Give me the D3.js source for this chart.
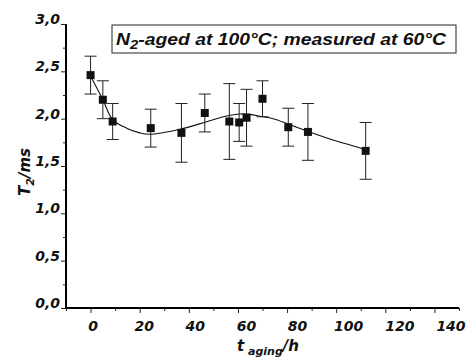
<!DOCTYPE html>
<html>
<head>
<meta charset="utf-8">
<script src="https://cdn.jsdelivr.net/npm/d3@7"></script>
<style>
    body { margin: 0; background: #fff; }
    .lbl { font-family: "DejaVu Sans", sans-serif; font-weight: bold; font-style: italic; fill: #111; }
    .leg { font-family: "Liberation Sans", Arial, sans-serif; font-weight: bold; font-style: italic; fill: #111; }
</style>
</head>
<body>
<script>
// measured points: aging time (h), T2 (ms), error (ms)
var agingTime = [0, 5, 9, 24.5, 37, 46.5, 56.5, 60.5, 63.5, 70, 80.5, 88.5, 112];
var t2Values  = [2.46, 2.20, 1.97, 1.90, 1.85, 2.06, 1.97, 1.96, 2.01, 2.21, 1.91, 1.86, 1.66];
var t2Errors  = [0.20, 0.20, 0.19, 0.20, 0.31, 0.20, 0.40, 0.20, 0.30, 0.19, 0.20, 0.30, 0.30];

// fitted curve
var fitTime = [0, 5, 9, 14.7, 20, 24, 36.4, 47.3, 55.4, 60.8, 65, 69, 74.3, 80.4, 88, 98.7, 110.9, 112];
var fitT2   = [2.45, 2.20, 1.99, 1.90, 1.85, 1.835, 1.888, 1.968, 2.028, 2.05, 2.045, 2.025, 2.0, 1.944, 1.87, 1.775, 1.68, 1.665];

// ticks
var xTicks = [0, 20, 40, 60, 80, 100, 120, 140];
var xMinor = [-10, 10, 30, 50, 70, 90, 110, 130, 150];
var yTicks = [0, 0.5, 1.0, 1.5, 2.0, 2.5, 3.0];
var yMinor = [0.25, 0.75, 1.25, 1.75, 2.25, 2.75];

var width = 470, height = 359;
var svg = d3.select("body").append("svg")
    .attr("width", width)
    .attr("height", height);

var x = d3.scaleLinear().domain([-10, 150]).range([66, 459]);
var y = d3.scaleLinear().domain([0, 3]).range([308, 24]);
// tick labels in the scan sit a bit right of their ticks
var xLabelPos = d3.scaleLinear().domain([0, 140]).range([93, 451]);

function comma(v) { return d3.format(".1f")(v).replace(".", ","); }

// x axis
var gx = svg.append("g").attr("transform", "translate(0,308)");
gx.call(d3.axisBottom(x).tickValues(xTicks).tickSize(5).tickFormat(""));
gx.append("g").call(d3.axisBottom(x).tickValues(xMinor).tickSize(3).tickFormat(""));
gx.selectAll(".domain").attr("stroke-width", 2).attr("d", "M66,0H459");
gx.selectAll(".tick line").attr("stroke", "#222");

svg.selectAll("text.xt")
    .data(xTicks)
    .enter().append("text")
    .attr("class", "lbl xt")
    .attr("x", function(d) { return xLabelPos(d); })
    .attr("y", 331)
    .attr("text-anchor", "middle")
    .style("font-size", "14px")
    .text(function(d) { return d; });

// y axis
var gy = svg.append("g").attr("transform", "translate(66,0)");
gy.call(d3.axisLeft(y).tickValues(yTicks).tickSize(5).tickFormat(""));
gy.append("g").call(d3.axisLeft(y).tickValues(yMinor).tickSize(3).tickFormat(""));
gy.selectAll(".domain").attr("stroke-width", 2).attr("d", "M0,308V24");
gy.selectAll(".tick line").attr("stroke", "#222");

svg.selectAll("text.yt")
    .data(yTicks)
    .enter().append("text")
    .attr("class", "lbl yt")
    .attr("x", 60)
    .attr("y", function(d) { return y(d); })
    .attr("text-anchor", "end")
    .style("font-size", "14px")
    .text(comma);

// axis titles
var ytitle = svg.append("text")
    .attr("class", "lbl")
    .attr("transform", "translate(30,172) rotate(-90)")
    .attr("text-anchor", "middle")
    .style("font-size", "15px");
ytitle.append("tspan").text("T");
ytitle.append("tspan").attr("dy", 4).style("font-size", "11px").text("2");
ytitle.append("tspan").attr("dy", -4).text("/ms");

var xtitle = svg.append("text")
    .attr("class", "lbl")
    .attr("x", 268)
    .attr("y", 351)
    .attr("text-anchor", "middle")
    .style("font-size", "15px");
xtitle.append("tspan").text("t");
xtitle.append("tspan").attr("dy", 4).style("font-size", "11px").text(" aging");
xtitle.append("tspan").attr("dy", -4).text("/h");

// legend box
svg.append("rect")
    .attr("x", 112).attr("y", 25)
    .attr("width", 344).attr("height", 28)
    .attr("fill", "none")
    .attr("stroke", "#222")
    .attr("stroke-width", 1);

var leg = svg.append("text")
    .attr("class", "leg")
    .attr("x", 116)
    .attr("y", 44.5)
    .attr("textLength", 330)
    .attr("lengthAdjust", "spacingAndGlyphs")
    .style("font-size", "17px");
leg.append("tspan").text("N");
leg.append("tspan").attr("dy", 4).style("font-size", "13px").text("2");
leg.append("tspan").attr("dy", -4).text("-aged at 100\u00b0C; measured at 60\u00b0C");

// fitted curve
var fitData = fitTime.map(function(t, i) { return {t: t, v: fitT2[i]}; });
var line = d3.line()
    .x(function(d) { return x(d.t); })
    .y(function(d) { return y(d.v); })
    .curve(d3.curveCatmullRom);

svg.append("path")
    .datum(fitData)
    .attr("d", line)
    .attr("fill", "none")
    .attr("stroke", "#111")
    .attr("stroke-width", 1.1);

// points with error bars
var data = agingTime.map(function(t, i) { return {t: t, v: t2Values[i], e: t2Errors[i]}; });
var capW = 6;

var pts = svg.selectAll("g.pt")
    .data(data)
    .enter().append("g")
    .attr("class", "pt");

pts.append("line")
    .attr("x1", function(d) { return x(d.t); })
    .attr("x2", function(d) { return x(d.t); })
    .attr("y1", function(d) { return y(d.v - d.e); })
    .attr("y2", function(d) { return y(d.v + d.e); })
    .attr("stroke", "#222");

pts.append("line")
    .attr("x1", function(d) { return x(d.t) - capW; })
    .attr("x2", function(d) { return x(d.t) + capW; })
    .attr("y1", function(d) { return y(d.v + d.e); })
    .attr("y2", function(d) { return y(d.v + d.e); })
    .attr("stroke", "#222");

pts.append("line")
    .attr("x1", function(d) { return x(d.t) - capW; })
    .attr("x2", function(d) { return x(d.t) + capW; })
    .attr("y1", function(d) { return y(d.v - d.e); })
    .attr("y2", function(d) { return y(d.v - d.e); })
    .attr("stroke", "#222");

pts.append("rect")
    .attr("x", function(d) { return x(d.t) - 4; })
    .attr("y", function(d) { return y(d.v) - 4; })
    .attr("width", 8)
    .attr("height", 8)
    .attr("fill", "#111");
</script>
</body>
</html>
